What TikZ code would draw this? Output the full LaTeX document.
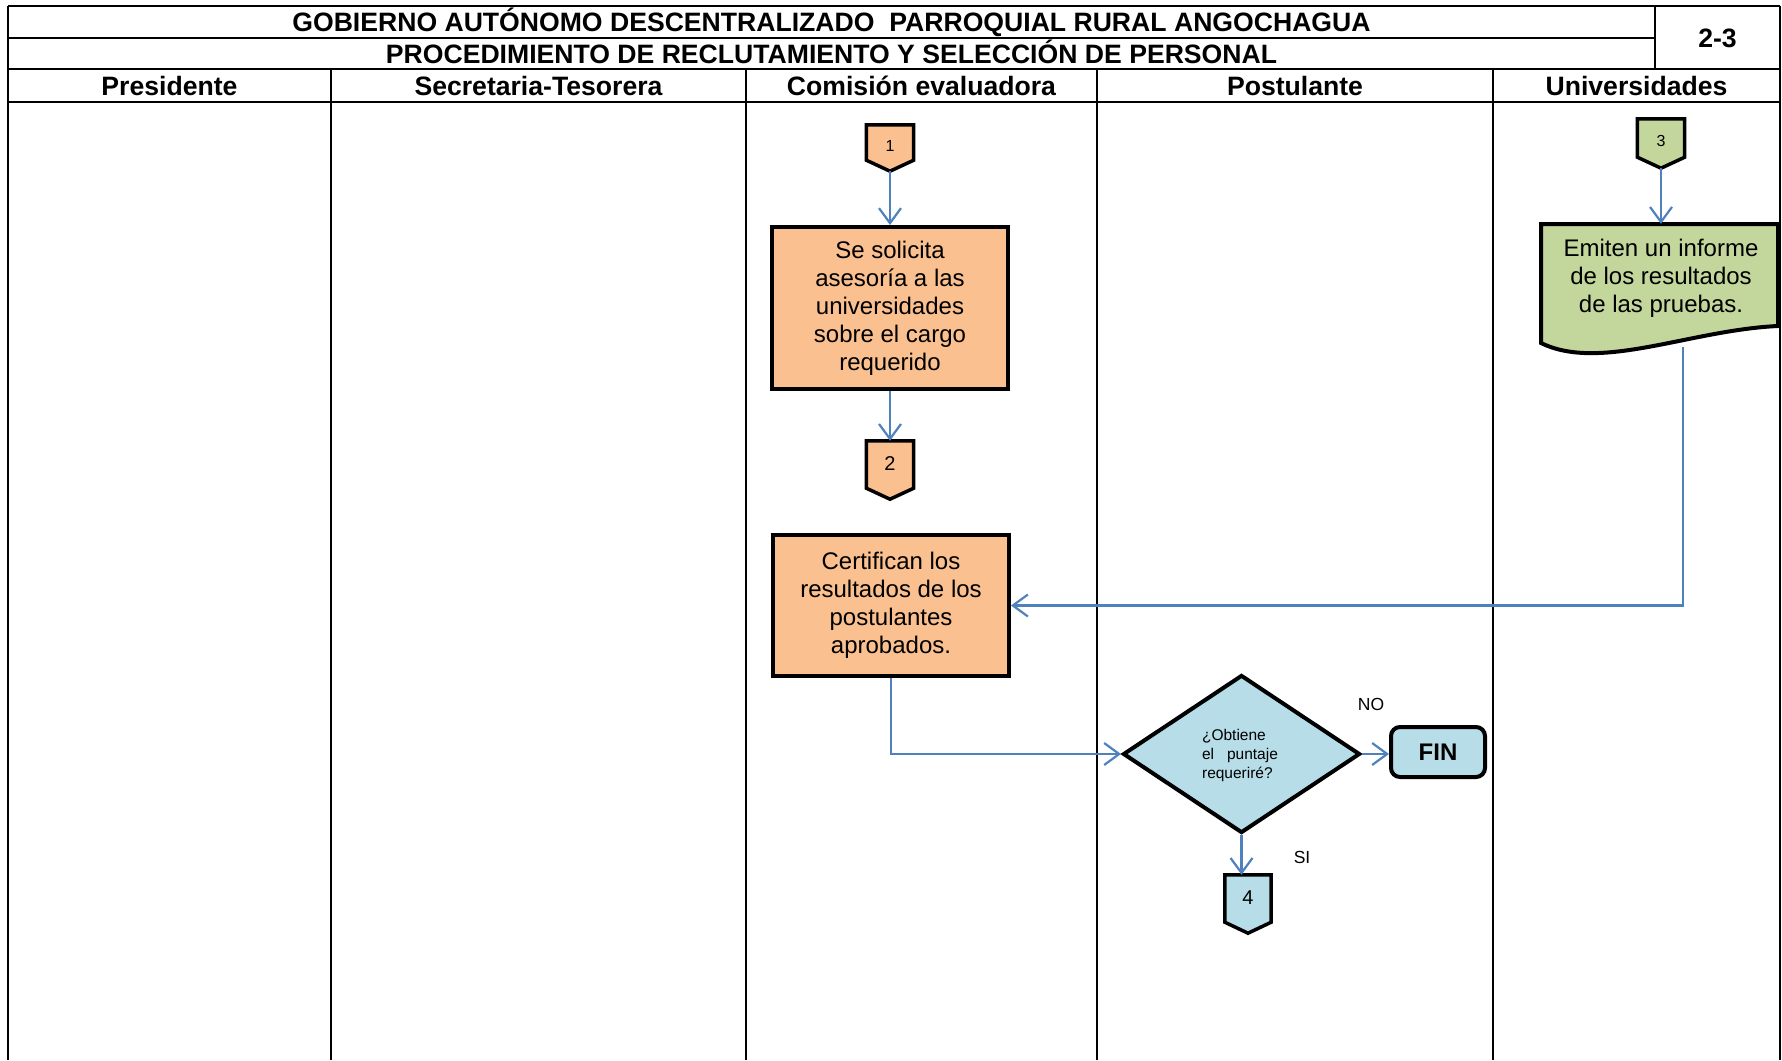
\documentclass[tikz,border=0pt]{standalone}
\usepackage{fontspec}
\setmainfont{Liberation Sans}
\usetikzlibrary{shapes.geometric,arrows.meta,calc}

\definecolor{orangefill}{HTML}{FAC090}
\definecolor{greenfill}{HTML}{C3D69B}
\definecolor{bluefill}{HTML}{B7DDE8}
\definecolor{flowblue}{HTML}{4F81BD}

% off-page connector: a pentagon pointing down, built on a named frame node
\newcommand\offpageshape[2]{%
  \draw[opline, fill=#2] (#1.north west) -- (#1.north east)
    -- ($(#1.south east)+(0,-11)$) -- (#1.south)
    -- ($(#1.south west)+(0,-11)$) -- cycle;}

\tikzset{
  frame/.style={line width=2pt},
  thinlane/.style={line width=1.4pt},
  title/.style={font=\fontsize{26.6}{30}\selectfont\bfseries, text height=19pt, text depth=0pt, inner sep=0pt},
  proc/.style={draw, line width=4pt, align=center, inner sep=0pt,
    font=\fontsize{24}{28}\selectfont},
  opframe/.style={draw=none, inner sep=0pt, minimum width=#1},
  opline/.style={line width=3.5pt, line join=miter},
  numtxt/.style={inner sep=0pt},
  flow/.style={draw=flowblue, line width=2.2pt, -{Straight Barb[length=15pt,width=22pt]}},
  lbl/.style={font=\fontsize{17.5}{20}\selectfont, inner sep=0pt}
}

\begin{document}
\begin{tikzpicture}[x=1pt,y=-1pt]
\useasboundingbox (0,0) rectangle (1782,1060);

% ---- table frame and swimlanes ----
\draw[frame] (8,6) -- (1780,6);
\draw[frame] (8,37.5) -- (1655,37.5);
\draw[frame] (8,69) -- (1780,69);
\draw[frame] (8,102) -- (1780,102);
\draw[frame] (1655,6) -- (1655,69);
\draw[frame] (8,6) -- (8,1060);
\draw[frame] (1780,6) -- (1780,1060);
\draw[frame] (331,69) -- (331,1060);
\draw[thinlane] (746,69) -- (746,1060);
\draw[thinlane] (1097,69) -- (1097,1060);
\draw[thinlane] (1493,69) -- (1493,1060);

\node[title] (t1) at (831.5,22) {GOBIERNO AUTÓNOMO DESCENTRALIZADO\ \ PARROQUIAL RURAL ANGOCHAGUA};
\node[title] (t2) at (831.5,53.5) {PROCEDIMIENTO DE RECLUTAMIENTO Y SELECCIÓN DE PERSONAL};
\node[title] (pg) at (1717.5,38) {2-3};

\node[title] (h1) at (169.5,86) {Presidente};
\node[title] (h2) at (538.5,86) {Secretaria-Tesorera};
\node[title] (h3) at (921.5,86) {Comisión evaluadora};
\node[title] (h4) at (1295,86) {Postulante};
\node[title] (h5) at (1636.5,86) {Universidades};

% ---- Comisión evaluadora ----
\node[opframe=47pt, minimum height=46pt] (c1) at (890,148) {};
\offpageshape{c1}{orangefill}
\node[numtxt, font=\fontsize{16}{18}\selectfont] (c1t) at ($(c1)+(0,-2.5)$) {1};

\node[proc, fill=orangefill, minimum width=236pt, minimum height=162pt] (p1) at (890,308)
  {Se solicita\\asesoría a las\\universidades\\sobre el cargo\\requerido};

\node[opframe=47pt, minimum height=58pt] (c2) at (890,470) {};
\offpageshape{c2}{orangefill}
\node[numtxt, font=\fontsize{20}{22}\selectfont] (c2t) at ($(c2)+(0,-6)$) {2};

\node[proc, fill=orangefill, minimum width=236pt, minimum height=141pt] (p2) at (891,605.5)
  {Certifican los\\resultados de los\\postulantes\\aprobados.};

% ---- Universidades ----
\node[opframe=47pt, minimum height=49pt] (c3) at (1661,143.5) {};
\offpageshape{c3}{greenfill}
\node[numtxt, font=\fontsize{16}{18}\selectfont] (c3t) at ($(c3)+(0,-2.5)$) {3};

\draw[line width=4pt, line join=miter, fill=greenfill]
  (1541,224) -- (1778,224) -- (1778,326)
  .. controls (1690,330) and (1600,372) .. (1541,343) -- cycle;
\node[draw=none, align=center, inner sep=0pt, minimum width=237pt, minimum height=108pt,
  font=\fontsize{24}{28}\selectfont] (doc) at (1661,278)
  {Emiten un informe\\de los resultados\\de las pruebas.};
\coordinate (dout) at (1683,347);

% ---- Postulante ----
\node[diamond, draw, line width=4pt, fill=bluefill, inner sep=0pt,
  minimum width=237pt, minimum height=158pt] (dia) at (1241.5,754) {};
\node[align=left, inner sep=0pt, font=\fontsize{15.5}{19}\selectfont] (diat) at (1240,755)
  {¿Obtiene\\el\ \ \ puntaje\\requeriré?};

\node[draw, line width=4pt, fill=bluefill, rounded corners=9pt, minimum width=94pt,
  minimum height=50pt, font=\fontsize{24}{28}\selectfont\bfseries] (fin) at (1438,752) {FIN};

\node[opframe=46pt, minimum height=58pt] (c4) at (1248,904) {};
\offpageshape{c4}{bluefill}
\node[numtxt, font=\fontsize{20}{22}\selectfont] (c4t) at ($(c4)+(0,-6)$) {4};

\node[lbl] (no) at (1371,704) {NO};
\node[lbl] (si) at (1302,857) {SI};

% ---- connectors ----
\draw[flow] (c1.south) -- (p1.north);
\draw[flow] (p1.south) -- (c2.north);
\draw[flow] (c3.south) -- (doc.north);
\draw[flow] (dout) |- (p2.east);
\draw[flow] (p2.south) |- (dia.west);
\draw[flow] (dia.east) -- (dia.east -| fin.west);
\draw[flow] (dia.south) -- (dia.south |- c4.north);
\end{tikzpicture}
\end{document}
